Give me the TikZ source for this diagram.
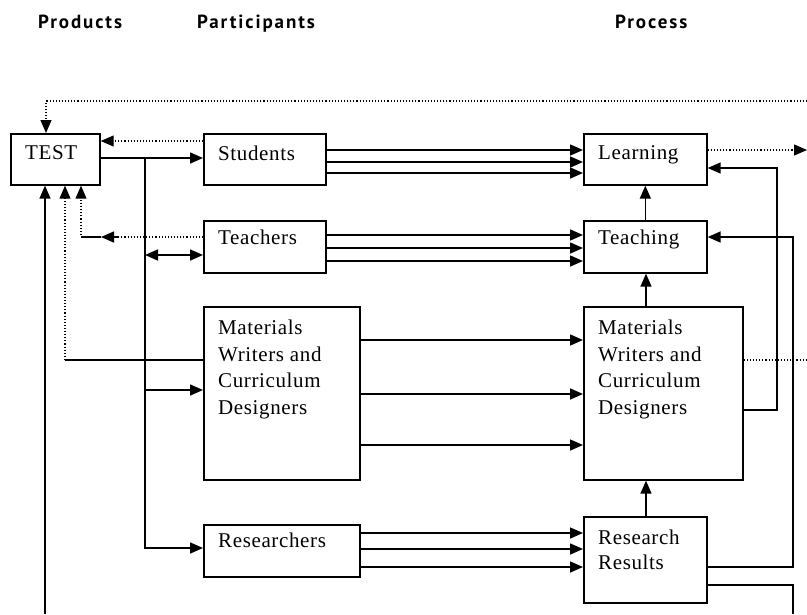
\documentclass[tikz,border=0pt]{standalone}
\usepackage{fontspec}
\setmainfont{Liberation Serif}[LetterSpace=3]
\newfontfamily\hdrfont{PT Sans}[LetterSpace=10]
\usetikzlibrary{arrows.meta}
\tikzset{
  box/.style={draw, line width=1.7pt, anchor=north west, inner sep=0pt},
  lbl/.style={anchor=north west, inner sep=0pt, align=left, font=\fontsize{21}{26.5}\selectfont},
  hdr/.style={anchor=base west, inner sep=0pt, font=\hdrfont\bfseries\fontsize{19}{20}\selectfont},
  ln/.style={line width=1.6pt},
  arr/.style={line width=1.6pt, -{Triangle[length=13pt,width=11pt]}},
  darr/.style={line width=1.6pt, {Triangle[length=13pt,width=11pt]}-{Triangle[length=13pt,width=11pt]}},
  dotarr/.style={line width=1.1pt, dotted, -{Triangle[length=13pt,width=11pt]}},
  dotln/.style={line width=1.1pt, dotted},
}
\begin{document}
\begin{tikzpicture}[x=1pt, y=-1pt]
\useasboundingbox (0,0) rectangle (807,614);
% headers
\node[hdr] (h1) at (38,28) {Products};
\node[hdr] (h2) at (197,28) {Participants};
\node[hdr] (h3) at (615,28) {Process};
% boxes
\node[box, minimum width=89pt, minimum height=51pt] (test) at (10,133) {};
\node[box, minimum width=122pt, minimum height=51pt] (stu) at (203,133) {};
\node[box, minimum width=122pt, minimum height=52pt] (tea) at (203,220) {};
\node[box, minimum width=156pt, minimum height=173pt] (matl) at (203,306) {};
\node[box, minimum width=156pt, minimum height=52pt] (res) at (203,524) {};
\node[box, minimum width=123pt, minimum height=51pt] (lrn) at (583,133) {};
\node[box, minimum width=123pt, minimum height=52pt] (tch) at (583,220) {};
\node[box, minimum width=159pt, minimum height=173pt] (matr) at (583,306) {};
\node[box, minimum width=123pt, minimum height=86pt] (rr) at (583,516) {};
% labels
\node[lbl] (testt) at (25,145) {TEST};
\node[lbl] (stut) at (218,146) {Students};
\node[lbl] (teat) at (218,230) {Teachers};
\node[lbl] (matlt) at (218,320) {Materials\\Writers and\\Curriculum\\Designers};
\node[lbl] (rest) at (218,533) {Researchers};
\node[lbl] (lrnt) at (598,145) {Learning};
\node[lbl] (tcht) at (598,230) {Teaching};
\node[lbl] (matrt) at (598,320) {Materials\\Writers and\\Curriculum\\Designers};
\node[lbl, font=\fontsize{21}{24.5}\selectfont] (rrt) at (598,530) {Research\\Results};
% free ends
\coordinate (topR) at (807,101);
\coordinate (lrnR) at (807,150);
\coordinate (matR) at (807,360);
\coordinate (botL) at (45,614);
\coordinate (botR) at (793,614);
\coordinate (bus) at (145,158);
% top dotted loop into TEST
\draw[dotarr] (topR) -- (46,101) -- (test.north -| 46,0);
% Students -> TEST (dotted)
\draw[dotarr] (stu.west |- 0,141) -- (test.east |- 0,141);
% TEST -> Students
\draw[arr] (test.east |- 0,158) -- (stu.west |- 0,158);
% bus to researchers
\draw[arr] (bus) -- (145,548) -- (res.west |- 0,548);
\draw[arr] (145,390) -- (matl.west |- 0,390);
\draw[darr] (145,255) -- (tea.west |- 0,255);
% Teachers -> TEST (dotted)
\draw[dotarr] (tea.west |- 0,237) -- (81,237) -- (test.south -| 81,0);
\draw[arr] (118,237) -- (101,237);
\draw[ln] (101,237) -- (81,237);
% Materials -> TEST
\draw[ln] (matl.west |- 0,360) -- (65,360);
\draw[dotarr] (65,360) -- (test.south -| 65,0);
% bottom loop into TEST
\draw[arr] (botL) -- (test.south -| 45,0);
% Students -> Learning
\foreach \yy in {150,162,173} \draw[arr] (stu.east |- 0,\yy) -- (lrn.west |- 0,\yy);
% Teachers -> Teaching
\foreach \yy in {235,248,261} \draw[arr] (tea.east |- 0,\yy) -- (tch.west |- 0,\yy);
% Materials -> Materials
\foreach \yy in {340,394,445} \draw[arr] (matl.east |- 0,\yy) -- (matr.west |- 0,\yy);
% Researchers -> Research Results
\foreach \yy in {533,549,567} \draw[arr] (res.east |- 0,\yy) -- (rr.west |- 0,\yy);
% process column
\draw[arr] (tch.north) -- (lrn.south);
\draw[arr] (matr.north -| 646,0) -- (tch.south -| 646,0);
\draw[arr] (rr.north -| 646,0) -- (matr.south -| 646,0);
\draw[dotarr] (lrn.east |- 0,150) -- (lrnR);
\draw[dotln] (matr.east |- 0,360) -- (matR);
\draw[arr] (matr.east |- 0,410) -- (777,410) -- (777,168) -- (lrn.east |- 0,168);
\draw[arr] (rr.east |- 0,567) -- (793,567) -- (793,237) -- (tch.east |- 0,237);
\draw[ln] (rr.east |- 0,585) -- (793,585) -- (botR);
\end{tikzpicture}
\end{document}
